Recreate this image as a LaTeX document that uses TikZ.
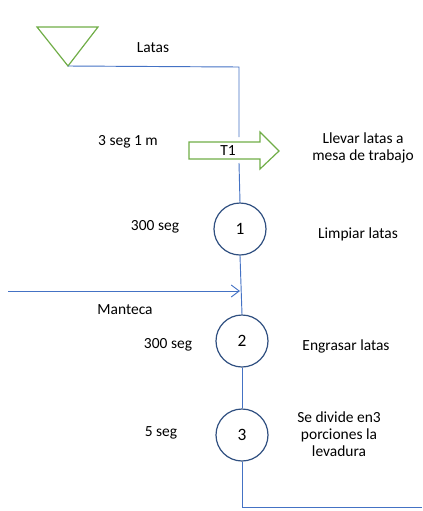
\documentclass[tikz,border=0pt]{standalone}
\usepackage{fontspec}
\setmainfont{Carlito}
\usetikzlibrary{arrows.meta}
\definecolor{flowblue}{HTML}{4472C4}
\definecolor{ringblue}{HTML}{2F4F80}
\definecolor{leafgreen}{HTML}{70AD47}
\tikzset{
  flow/.style={draw=flowblue, line width=0.7pt},
  opstep/.style={circle, draw=ringblue, line width=0.9pt, minimum size=39pt, inner sep=0pt,
                 font=\fontsize{13pt}{15pt}\selectfont},
  lbl/.style={inner sep=0pt, align=center},
}
\begin{document}
\begin{tikzpicture}[x=0.75pt, y=-0.75pt, every node/.style={font=\fontsize{11.6pt}{12.75pt}\selectfont}]
\useasboundingbox (0,0) rectangle (422,511);

% storage triangle
\draw[draw=leafgreen, line width=0.9pt] (37,27) -- (98,27) -- (68,66) -- cycle;
\coordinate (tri) at (68,66);
\node[lbl] (latas) at (153,48) {Latas};

% transport arrow
\draw[draw=leafgreen, line width=0.9pt]
  (189,142) -- (260,142) -- (260,132) -- (279,151) -- (260,169) -- (260,159) -- (189,159) -- cycle;
\node[lbl] (t1) at (228,151) {T1};
\coordinate (a1) at (239,137);
\coordinate (a2) at (239,163);
\node[lbl] (tt) at (128,142) {3 seg 1 m};
\node[lbl] (td) at (363,148) {Llevar latas a\\mesa de trabajo};

% operations
\node[opstep] (c1) at (240,229) {1};
\node[opstep] (c2) at (242,341) {2};
\node[opstep] (c3) at (242,435) {3};

\node[lbl] (t1t) at (155,227) {300 seg};
\node[lbl] (d1) at (358,234) {Limpiar latas};
\node[lbl] (t2t) at (168,345) {300 seg};
\node[lbl] (d2) at (346,346) {Engrasar latas};
\node[lbl] (t3t) at (161,433) {5 seg};
\node[lbl] (d3) at (339,434) {Se divide en3\\porciones la\\levadura};

% material input
\coordinate (m0) at (8,291);
\coordinate (m1) at (240,291);
\node[lbl] (mant) at (125,310) {Manteca};

% flow lines
\coordinate (fin) at (422,507);
\draw[flow] (tri) -- (239,67) -- (a1);
\draw[flow] (a2) -- (c1.north);
\draw[flow] (c1.south) -- (c2.north);
\draw[flow] (c2.south) -- (c3.north);
\draw[flow] (c3.south) |- (fin);
\draw[flow, -{Straight Barb[length=6pt, width=9pt]}] (m0) -- (m1);
\end{tikzpicture}
\end{document}
